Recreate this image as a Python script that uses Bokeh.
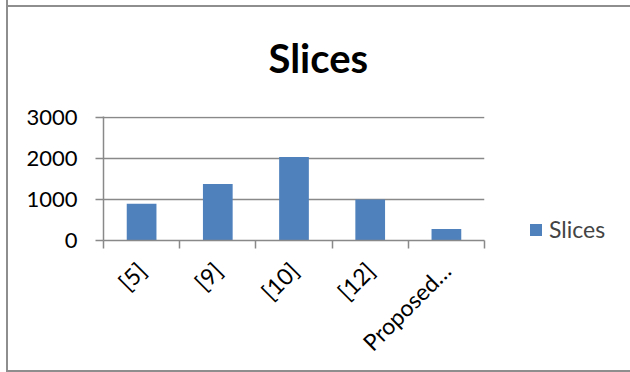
import math
from bokeh.plotting import figure
from bokeh.models import (ColumnDataSource, FixedTicker, Legend, LegendItem,
                          Range1d, Title)
from bokeh.embed import file_html
from bokeh.resources import INLINE

categories = ["[5]", "[9]", "[10]", "[12]", "Proposed…"]
values = [900, 1380, 2040, 1000, 280]
y_ticks = [0, 1000, 2000, 3000]
series_name = "Slices"

FONT = "Lato"
BLUE = "#4F81BD"
GRID = "#898989"
EDGE = "#8e8e8e"

xpos = [i + 0.5 for i in range(len(categories))]
src = ColumnDataSource(dict(x=xpos, top=values, cat=categories))

host_styles = {
    "box-sizing": "content-box",
    "margin-left": "6px",
    "border-left": f"2px solid {EDGE}",
    "border-bottom": f"2px solid {EDGE}",
    "background": f"linear-gradient({EDGE},{EDGE}) 0px 5px / 100% 2px no-repeat, white",
}

p = figure(frame_width=381, frame_height=124, output_backend="svg", toolbar_location=None,
           x_range=Range1d(0, len(categories)), y_range=Range1d(0, 3030),
           min_border_left=95, min_border_right=146, min_border_top=116,
           min_border_bottom=130, title=None, styles=host_styles)
p.outline_line_color = None
p.background_fill_color = "white"
p.border_fill_alpha = 0

r = p.vbar(x="x", top="top", width=0.39, bottom=0, source=src,
           fill_color=BLUE, line_color=None)

# title
t = Title(text="Slices", align="left", vertical_align="top", text_font=FONT,
          text_font_size="40px", text_font_style="bold", text_color="black",
          offset=165, standoff=66)
p.add_layout(t, "above")

# y axis
p.yaxis.ticker = FixedTicker(ticks=y_ticks)
p.yaxis.axis_line_color = GRID
p.yaxis.axis_line_width = 1.5
p.yaxis.major_tick_line_color = GRID
p.yaxis.major_tick_line_width = 1.5
p.yaxis.major_tick_out = 8
p.yaxis.major_tick_in = 0
p.yaxis.minor_tick_line_color = None
p.yaxis.major_label_text_font = FONT
p.yaxis.major_label_text_font_size = "22px"
p.yaxis.major_label_text_color = "black"
p.yaxis.major_label_standoff = 18

p.ygrid.ticker = FixedTicker(ticks=y_ticks)
p.ygrid.grid_line_color = GRID
p.ygrid.grid_line_width = 1.5
p.xgrid.grid_line_color = None

# x axis: labels at centers, ticks at boundaries (minor ticks)
p.xaxis.ticker = FixedTicker(ticks=xpos, minor_ticks=list(range(len(categories) + 1)))
p.xaxis.major_label_overrides = {x: c for x, c in zip(xpos, categories)}
p.xaxis.major_tick_line_color = None
p.xaxis.minor_tick_line_color = GRID
p.xaxis.minor_tick_line_width = 1.5
p.xaxis.minor_tick_out = 8
p.xaxis.minor_tick_in = 0
p.xaxis.axis_line_color = GRID
p.xaxis.axis_line_width = 1.5
p.xaxis.major_label_orientation = math.pi / 4
p.xaxis.major_label_text_font = FONT
p.xaxis.major_label_text_font_size = "23px"
p.xaxis.major_label_text_color = "black"
p.xaxis.major_label_standoff = 18

# legend
legend = Legend(items=[LegendItem(label=series_name, renderers=[r])],
                location=(44, -3), glyph_width=15, glyph_height=15,
                label_text_font=FONT, label_text_font_size="23px",
                label_standoff=6, padding=0, margin=0, spacing=0,
                border_line_color=None, background_fill_alpha=0)
p.add_layout(legend, "right")

open("out.html", "w").write(file_html(p, INLINE))
